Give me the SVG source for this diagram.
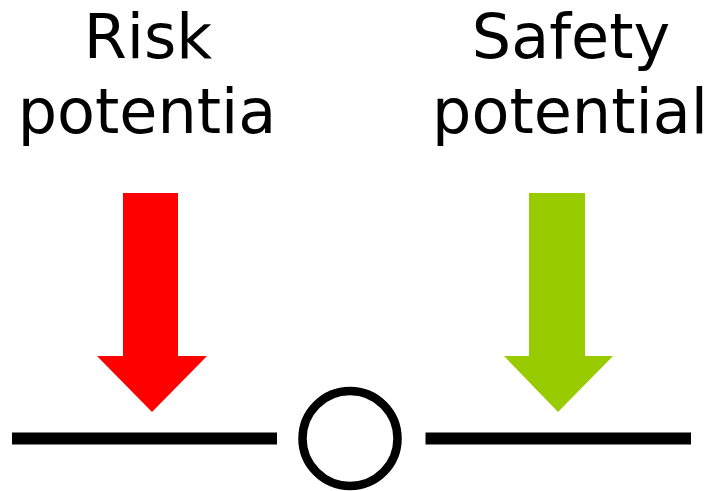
<svg xmlns="http://www.w3.org/2000/svg" width="713" height="491" viewBox="0 0 713 491">
<style>
.lbl{font-family:"DejaVu Sans",Verdana,sans-serif;font-size:62px;fill:#000;text-anchor:middle}
.bar{fill:#000}
</style>
<rect width="713" height="491" fill="#fff"/>
<g id="risk-label"><text class="lbl" x="148" y="58">Risk</text><text class="lbl" x="147" y="133">potentia</text></g>
<g id="safety-label"><text class="lbl" x="571" y="58">Safety</text><text class="lbl" x="570" y="133">potential</text></g>
<g id="risk-arrow"><polygon fill="#ff0000" points="123,193 178,193 178,356 207,356 152,412 97,356 123,356"/></g>
<g id="safety-arrow"><polygon fill="#99cc00" points="529,193 585,193 585,356 613,356 558,412 504,356 529,356"/></g>
<g id="connectors">
<rect class="bar" x="12" y="432.5" width="265" height="12"/>
<rect class="bar" x="425.5" y="432.5" width="265.5" height="12"/>
</g>
<g id="pivot"><circle cx="350" cy="438.5" r="47.5" fill="#fff" stroke="#000" stroke-width="8.5"/></g>
</svg>
